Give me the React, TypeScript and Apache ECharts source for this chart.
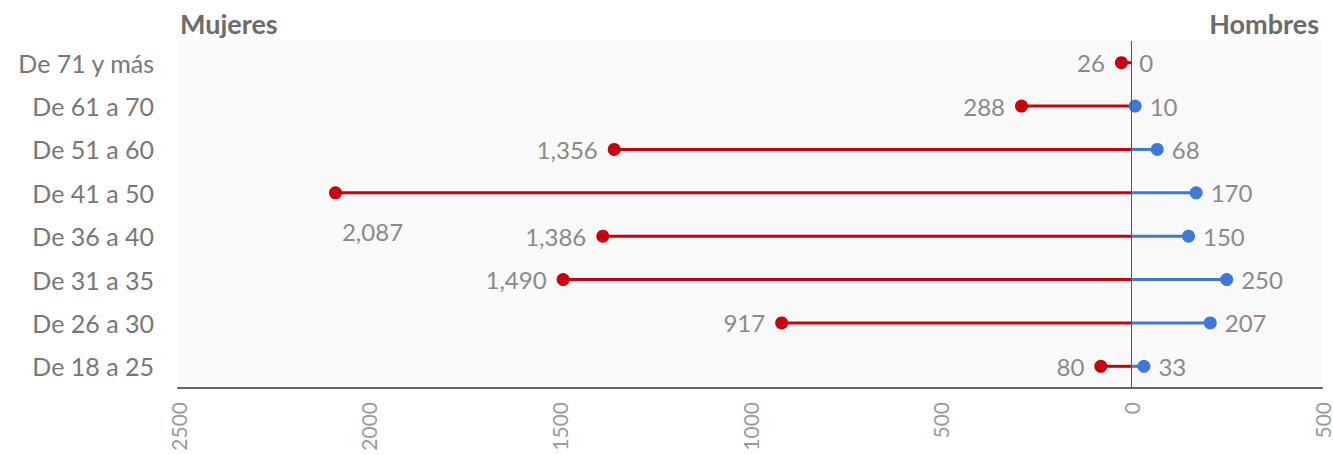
import React, { useEffect, useRef } from "react";
import * as echarts from "echarts";

const categories = [
  "De 18 a 25",
  "De 26 a 30",
  "De 31 a 35",
  "De 36 a 40",
  "De 41 a 50",
  "De 51 a 60",
  "De 61 a 70",
  "De 71 y más",
];
const mujeres = [80, 917, 1490, 1386, 2087, 1356, 288, 26];
const hombres = [33, 207, 250, 150, 170, 68, 10, 0];
const xTicks = [-2500, -2000, -1500, -1000, -500, 0, 500];

const RED = "#c9000d";
const BLUE = "#3f78d6";
const LABEL = "#8a8a8a";
const FONT = "Lato, 'Open Sans', sans-serif";

export default function App() {
  const ref = useRef<HTMLDivElement>(null);
  useEffect(() => {
    if (!ref.current) return;
    const chart = echarts.init(ref.current, null, { renderer: "svg" });
    const fmt = (v: number) => Math.abs(v).toLocaleString("en-US");
    chart.setOption({
      animation: false,
      textStyle: { fontFamily: FONT },
      grid: {
        left: 178,
        right: 11,
        top: 41,
        bottom: 67,
        show: true,
        backgroundColor: "#f9f9f9",
        borderWidth: 0,
      },
      graphic: [
        {
          type: "text",
          left: 180,
          top: 10,
          style: { text: "Mujeres", fontSize: 27, fontWeight: "bold", fill: "#6b6b6b", fontFamily: FONT },
        },
        {
          type: "text",
          right: 14,
          top: 10,
          style: { text: "Hombres", fontSize: 27, fontWeight: "bold", fill: "#6b6b6b", fontFamily: FONT },
        },
      ],
      xAxis: {
        type: "value",
        min: xTicks[0],
        max: xTicks[xTicks.length - 1],
        interval: 500,
        axisLine: { show: true, onZero: false, lineStyle: { color: "#666", width: 2 } },
        axisTick: { show: false },
        splitLine: { show: false },
        axisLabel: {
          rotate: 90,
          color: "#9a9a9a",
          fontSize: 21,
          margin: 14,
          formatter: (v: number) => String(Math.abs(v)),
        },
      },
      yAxis: {
        type: "category",
        data: categories,
        axisLine: { show: false },
        axisTick: { show: false },
        splitLine: { show: false },
        axisLabel: { color: "#777", fontSize: 25, margin: 24 },
      },
      series: [
        {
          type: "bar",
          stack: "t",
          barWidth: 3,
          data: mujeres.map((v) => -v),
          itemStyle: { color: RED },
          markLine: {
            silent: true,
            symbol: "none",
            label: { show: false },
            lineStyle: { color: "#555", width: 1, type: "solid" },
            data: [{ xAxis: 0 }],
          },
        },
        {
          type: "bar",
          stack: "t",
          barWidth: 3,
          data: hombres,
          itemStyle: { color: BLUE },
        },
        {
          type: "scatter",
          symbolSize: 13,
          data: hombres.map((v, i) => ({
            value: [v, categories[i]],
            symbolSize: v === 0 ? 0 : 13,
          })),
          itemStyle: { color: BLUE, opacity: 1 },
          label: {
            show: true,
            position: "right",
            distance: 8,
            color: LABEL,
            fontSize: 24,
            formatter: (p: any) => fmt(p.value[0]),
          },
          z: 3,
        },
        {
          type: "scatter",
          symbolSize: 13,
          data: mujeres.map((v, i) => {
            const item: any = { value: [-v, categories[i]] };
            if (v === Math.max(...mujeres)) {
              item.label = { position: "bottom", distance: 20, offset: [37, 0] };
            }
            return item;
          }),
          itemStyle: { color: RED, opacity: 1 },
          label: {
            show: true,
            position: "left",
            distance: 10,
            color: LABEL,
            fontSize: 24,
            formatter: (p: any) => fmt(p.value[0]),
          },
          z: 4,
        },
      ],
    });
    return () => chart.dispose();
  }, []);
  return (
    <div
      ref={ref}
      style={{ position: "fixed", left: 0, top: 0, width: 1333, height: 455, background: "#fff" }}
    />
  );
}
